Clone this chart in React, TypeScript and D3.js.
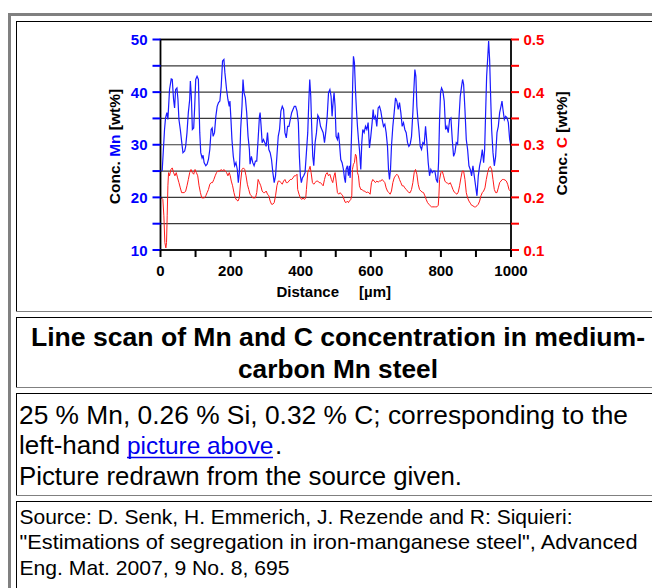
import React from "react";
import * as d3 from "d3";

// Mn line scan: [distance µm, Mn wt%]
const mnScan: [number, number][] = [
  [4.8,25.0],[11.5,32.9],[14.4,35.1],[18.2,36.1],[21.1,34.8],[25.8,40.5],[30.6,42.5],[33.5,42.4],[37.3,38.6],[40.2,37.0],
  [43.1,40.5],[46.9,40.8],[49.8,38.6],[52.6,34.8],[56.5,32.9],[61.2,30.1],[64.1,28.5],[68.9,28.8],[71.8,29.7],[75.6,32.3],
  [79.4,36.1],[83.3,38.6],[85.2,42.1],[88.0,39.2],[90.9,32.9],[94.7,33.2],[97.6,37.3],[100.5,42.4],[104.3,43.0],[108.1,42.4],
  [112.0,32.3],[114.8,28.5],[118.7,27.5],[121.5,28.0],[124.4,26.6],[129.2,26.0],[133.0,26.3],[136.8,27.2],[140.7,29.1],[144.5,32.9],
  [147.4,33.2],[150.2,31.6],[154.1,32.3],[157.9,35.4],[161.7,37.3],[165.6,38.0],[169.4,38.3],[173.2,41.1],[177.0,45.9],[180.9,46.2],
  [183.7,43.7],[188.5,40.5],[192.3,38.6],[196.2,37.3],[198.1,38.3],[201.0,34.8],[203.8,31.0],[207.7,27.8],[211.5,26.0],[215.3,26.6],
  [219.1,25.3],[222.0,22.8],[224.9,24.7],[228.7,32.9],[232.5,37.3],[235.4,42.4],[238.3,39.9],[242.1,38.9],[245.9,36.1],[249.8,31.6],
  [253.6,29.1],[255.5,26.3],[259.3,27.8],[263.2,26.6],[267.0,26.0],[270.8,26.9],[274.6,26.9],[278.5,31.0],[282.3,35.4],[284.2,36.1],
  [287.1,33.5],[290.0,30.4],[293.8,31.0],[297.6,30.4],[301.4,29.7],[305.3,32.3],[309.1,29.1],[312.9,28.5],[316.7,27.2],[320.6,24.7],
  [324.4,22.8],[328.2,24.1],[332.1,27.8],[335.9,31.6],[339.7,32.9],[343.5,36.4],[347.4,37.3],[351.2,36.7],[355.0,32.3],[358.9,31.3],
  [362.7,33.5],[366.5,33.5],[370.3,34.8],[374.2,36.1],[378.0,36.7],[381.8,37.3],[385.6,37.3],[389.5,36.4],[393.3,34.2],[396.2,27.8],
  [399.0,24.1],[401.9,22.8],[404.8,23.7],[408.6,24.1],[412.4,24.7],[416.3,28.5],[420.1,32.3],[423.0,38.0],[425.8,42.4],[428.7,39.2],
  [431.6,32.9],[434.4,27.8],[437.3,26.0],[441.1,30.4],[445.0,32.3],[448.8,35.6],[452.6,35.1],[456.5,33.5],[460.3,32.9],[464.1,32.3],
  [467.9,30.4],[471.8,32.6],[475.6,35.4],[479.4,39.9],[483.3,40.5],[486.7,39.2],[489.5,35.4],[492.4,38.0],[495.2,39.9],[498.1,37.3],
  [501.0,31.6],[504.8,31.0],[507.6,32.3],[510.5,30.4],[514.3,27.2],[518.1,26.6],[521.9,25.3],[524.8,23.7],[527.6,22.8],[529.5,25.3],
  [533.3,26.0],[536.2,24.1],[539.0,26.0],[541.0,23.7],[542.8,26.6],[545.7,33.5],[548.6,42.4],[550.5,46.8],[553.3,45.6],[556.2,40.5],
  [559.0,36.7],[561.9,33.5],[564.8,31.0],[567.6,29.1],[571.4,25.3],[574.3,30.4],[577.1,32.9],[581.0,32.3],[584.8,33.5],[588.6,32.9],
  [592.4,34.2],[596.2,29.4],[600.0,31.6],[603.8,34.2],[606.7,36.7],[609.5,34.8],[613.3,35.4],[617.1,33.5],[621.0,37.0],[624.8,37.3],
  [628.6,36.4],[632.4,34.8],[636.2,33.5],[640.0,33.9],[643.8,32.3],[647.6,29.7],[650.5,25.3],[653.3,23.4],[656.2,25.3],[659.0,29.7],
  [662.9,33.5],[666.7,36.1],[670.5,38.9],[674.3,38.3],[678.1,36.7],[681.9,38.0],[685.7,36.1],[689.5,33.5],[693.3,34.2],[697.1,32.9],
  [701.0,32.3],[704.8,30.4],[708.6,29.7],[712.4,30.1],[716.2,31.6],[720.0,36.1],[722.9,40.5],[725.7,44.3],[728.6,43.0],[731.4,37.3],
  [734.3,34.8],[737.1,32.9],[741.0,29.7],[744.8,29.1],[748.6,30.4],[752.4,30.1],[756.2,33.5],[760.0,30.4],[763.8,26.6],[767.6,24.1],
  [771.4,25.3],[775.2,24.7],[779.0,25.0],[782.9,25.0],[786.7,23.4],[790.5,22.8],[793.3,26.6],[796.2,34.8],[799.0,39.9],[801.9,40.8],
  [805.7,40.2],[809.5,38.3],[813.3,32.9],[817.1,33.5],[821.0,32.3],[824.8,34.8],[828.6,35.1],[832.4,31.0],[836.2,27.8],[840.0,28.5],
  [843.8,30.4],[847.6,30.1],[851.4,34.8],[855.2,39.2],[859.0,41.1],[861.9,42.4],[864.8,41.5],[868.6,36.7],[872.4,31.0],[876.2,29.1],
  [880.0,26.0],[883.8,25.3],[887.6,24.1],[891.4,26.0],[895.2,24.1],[899.0,22.2],[902.9,20.3],[906.7,24.1],[910.5,26.0],[914.3,27.2],
  [918.1,29.1],[921.9,26.6],[924.8,29.1],[927.6,36.1],[930.5,43.0],[933.3,46.2],[936.2,49.7],[939.0,46.2],[941.9,39.2],[944.8,32.9],
  [948.6,28.5],[952.4,26.0],[956.2,27.8],[960.0,32.3],[963.8,33.5],[967.6,36.1],[971.4,37.3],[974.3,38.3],[977.1,36.7],[981.0,34.8],
  [984.8,35.4],[988.6,35.1],[992.4,34.2],[996.2,31.0],[999.0,30.0]
];

// C line scan: [distance µm, C wt%]
const cScan: [number, number][] = [
  [0,0.196],[2.9,0.199],[6.7,0.196],[9.6,0.165],[12.4,0.114],[15.3,0.104],[17.2,0.114],[19.1,0.165],[21.1,0.222],[23.0,0.247],
  [25.8,0.241],[29.7,0.253],[33.5,0.256],[37.3,0.247],[41.1,0.241],[45.0,0.247],[48.8,0.237],[52.6,0.228],[56.5,0.218],[60.3,0.209],
  [64.1,0.209],[67.9,0.209],[71.8,0.212],[75.6,0.222],[79.4,0.234],[83.3,0.247],[87.1,0.253],[90.9,0.247],[94.7,0.244],[98.6,0.253],
  [102.4,0.247],[106.2,0.241],[110.0,0.222],[113.9,0.209],[117.7,0.199],[121.5,0.199],[125.4,0.199],[129.2,0.203],[133.0,0.209],[136.8,0.215],
  [140.7,0.225],[144.5,0.228],[148.3,0.228],[152.2,0.234],[156.0,0.241],[159.8,0.247],[163.6,0.250],[169.4,0.250],[173.2,0.253],[177.0,0.250],
  [180.9,0.253],[184.7,0.250],[188.5,0.247],[192.3,0.241],[196.2,0.247],[199.0,0.241],[201.9,0.231],[205.7,0.222],[209.6,0.209],[213.4,0.199],
  [217.2,0.195],[221.1,0.193],[224.9,0.199],[228.7,0.231],[232.5,0.253],[236.4,0.256],[240.2,0.253],[244.0,0.241],[247.8,0.225],[251.7,0.215],
  [255.5,0.206],[259.3,0.203],[263.2,0.199],[267.0,0.199],[270.8,0.199],[274.6,0.209],[278.5,0.234],[282.3,0.228],[286.1,0.222],[290.0,0.212],
  [293.8,0.209],[297.6,0.209],[301.4,0.212],[305.3,0.206],[309.1,0.203],[312.9,0.193],[316.7,0.187],[320.6,0.187],[324.4,0.190],[328.2,0.203],
  [332.1,0.222],[335.9,0.231],[339.7,0.231],[343.5,0.228],[347.4,0.225],[351.2,0.231],[355.0,0.234],[358.9,0.228],[362.7,0.228],[366.5,0.231],
  [370.3,0.234],[374.2,0.234],[378.0,0.237],[381.8,0.241],[385.6,0.241],[389.5,0.244],[391.4,0.215],[395.2,0.206],[399.0,0.199],[402.9,0.196],
  [406.7,0.199],[410.5,0.196],[414.4,0.199],[416.3,0.215],[420.1,0.247],[423.9,0.253],[426.8,0.259],[429.7,0.247],[433.5,0.228],[437.3,0.225],
  [441.1,0.228],[445.0,0.231],[448.8,0.231],[452.6,0.228],[456.5,0.228],[460.3,0.225],[464.1,0.222],[467.9,0.234],[471.8,0.244],[475.6,0.247],
  [479.4,0.241],[483.3,0.244],[487.6,0.234],[491.4,0.228],[495.2,0.241],[498.1,0.247],[501.0,0.231],[504.8,0.209],[508.6,0.206],[512.4,0.209],
  [516.2,0.206],[520.0,0.203],[523.8,0.196],[526.7,0.191],[529.5,0.190],[533.3,0.193],[536.2,0.190],[539.0,0.193],[542.8,0.196],[545.7,0.203],
  [547.6,0.253],[550.5,0.263],[553.3,0.266],[556.2,0.282],[559.0,0.278],[561.9,0.247],[564.8,0.241],[567.6,0.222],[571.4,0.215],[575.2,0.215],
  [579.0,0.212],[582.8,0.212],[586.7,0.209],[590.5,0.210],[594.3,0.209],[598.1,0.206],[601.9,0.228],[605.7,0.234],[609.5,0.231],[613.3,0.228],
  [617.1,0.231],[621.0,0.229],[624.8,0.231],[628.6,0.231],[632.4,0.234],[636.2,0.231],[640.0,0.228],[643.8,0.218],[647.6,0.212],[651.4,0.209],
  [655.2,0.206],[659.0,0.212],[662.9,0.228],[666.7,0.237],[670.5,0.241],[674.3,0.244],[678.1,0.241],[681.9,0.234],[685.7,0.228],[689.5,0.222],
  [693.3,0.222],[697.1,0.218],[701.0,0.215],[704.8,0.212],[708.6,0.209],[712.4,0.209],[716.2,0.215],[720.0,0.228],[723.8,0.247],[727.6,0.253],
  [731.4,0.244],[735.2,0.225],[739.0,0.215],[742.9,0.212],[746.7,0.210],[750.5,0.209],[754.3,0.203],[758.1,0.196],[761.9,0.190],[765.7,0.187],
  [769.5,0.184],[773.3,0.182],[777.1,0.182],[781.0,0.182],[784.8,0.182],[788.6,0.182],[792.4,0.185],[794.3,0.203],[796.2,0.234],[800.0,0.247],
  [803.8,0.250],[807.6,0.241],[811.4,0.231],[815.2,0.228],[819.0,0.227],[822.9,0.225],[826.7,0.228],[830.5,0.222],[834.3,0.215],[838.1,0.210],
  [841.9,0.208],[845.7,0.206],[849.5,0.210],[853.3,0.222],[857.1,0.237],[861.0,0.250],[864.8,0.250],[868.6,0.234],[872.4,0.209],[876.2,0.199],
  [880.0,0.193],[883.8,0.189],[887.6,0.185],[891.4,0.184],[895.2,0.182],[899.0,0.182],[902.9,0.184],[906.7,0.187],[910.5,0.193],[914.3,0.203],
  [918.1,0.209],[921.9,0.212],[925.7,0.218],[929.5,0.234],[933.3,0.247],[937.1,0.256],[941.0,0.259],[944.8,0.253],[948.6,0.234],[952.4,0.215],
  [956.2,0.209],[960.0,0.209],[963.8,0.218],[967.6,0.228],[971.4,0.231],[975.2,0.234],[979.0,0.234],[982.9,0.233],[986.7,0.231],[990.5,0.225],
  [994.3,0.215],[998.1,0.212]
];

const distanceTicks = [0, 100, 200, 300, 400, 500, 600, 700, 800, 900, 1000];
const distanceLabels = [0, 200, 400, 600, 800, 1000];
const mnTicks = [10, 15, 20, 25, 30, 35, 40, 45, 50];
const mnLabels = [10, 20, 30, 40, 50];
const mnGrid = [15, 20, 25, 30, 35, 40, 45];
const cTicks = [0.1, 0.15, 0.2, 0.25, 0.3, 0.35, 0.4, 0.45, 0.5];
const cLabels = [0.1, 0.2, 0.3, 0.4, 0.5];

const titleLines = ["Line scan of Mn and C concentration in medium-", "carbon Mn steel"];
const noteLine1 = "25 % Mn, 0.26 % Si, 0.32 % C; corresponding to the";
const noteLine2 = ["left-hand", "picture above", "."];
const noteLine3 = "Picture redrawn from the source given.";
const sourceLines = [
  "Source: D. Senk, H. Emmerich, J. Rezende and R: Siquieri:",
  "\"Estimations of segregation in iron-manganese steel\", Advanced",
  "Eng. Mat. 2007, 9 No. 8, 695",
];

const FONT = "'Liberation Sans', Arial, Helvetica, sans-serif";

function Cell({ top, bottom }: { top: number; bottom: number }) {
  return (
    <g>
      <rect x={16} y={top} width={636} height={1} fill="#000" />
      <rect x={16} y={top} width={1} height={bottom - top} fill="#000" />
      {bottom < 588 && <rect x={16} y={bottom} width={636} height={1} fill="#808080" />}
    </g>
  );
}

export default function App() {
  const x = d3.scaleLinear().domain([0, 1000]).range([160.5, 511]);
  const yMn = d3.scaleLinear().domain([10, 50]).range([250, 39.5]);
  const yC = d3.scaleLinear().domain([0.1, 0.5]).range([250, 39.5]);
  const mnPath = d3.line<[number, number]>().x((d) => x(d[0])).y((d) => yMn(d[1]))(mnScan) || "";
  const cPath = d3.line<[number, number]>().x((d) => x(d[0])).y((d) => yC(d[1]))(cScan) || "";
  const fmtC = d3.format(".1f");

  const titleWidths = [614, 200];
  const sourceWidths = [553, 618, 270];

  return (
    <svg width={652} height={588} style={{ position: "absolute", left: 0, top: 0 }} fontFamily={FONT}>
      <rect width={652} height={588} fill="#fff" />
      {/* outer table border */}
      <rect x={8} y={13} width={3} height={575} fill="#808080" />
      <rect x={8} y={13} width={644} height={3} fill="#808080" />
      <Cell top={21} bottom={311} />
      <Cell top={317} bottom={387} />
      <Cell top={393} bottom={495} />
      <Cell top={501} bottom={600} />

      {/* grid */}
      {mnGrid.map((v) => (
        <line key={"g" + v} x1={x(0)} x2={x(1000)} y1={yMn(v)} y2={yMn(v)} stroke="#3a3a3a" strokeWidth={1.2} />
      ))}

      {/* data */}
      <path d={cPath} fill="none" stroke="#ff1a1a" strokeWidth={1} />
      <path d={mnPath} fill="none" stroke="#1a1aff" strokeWidth={1.2} />

      {/* frame */}
      <rect x={x(0)} y={yMn(50)} width={x(1000) - x(0)} height={yMn(10) - yMn(50)} fill="none" stroke="#000" strokeWidth={1.8} />

      {/* left axis ticks (Mn) */}
      {mnTicks.map((v) => (
        <line key={"lt" + v} x1={x(0) - 8} x2={x(0)} y1={yMn(v)} y2={yMn(v)} stroke="#0000ff" strokeWidth={2} />
      ))}
      {mnLabels.map((v) => (
        <text key={"ll" + v} x={147.5} y={yMn(v) + 5.5} textAnchor="end" fontSize={15} fontWeight="bold" fill="#0000ff">
          {v}
        </text>
      ))}

      {/* right axis ticks (C) */}
      {cTicks.map((v) => (
        <line key={"rt" + v} x1={x(1000)} x2={x(1000) + 8} y1={yC(v)} y2={yC(v)} stroke="#ff0000" strokeWidth={2} />
      ))}
      {cLabels.map((v) => (
        <text key={"rl" + v} x={523.5} y={yC(v) + 5.5} fontSize={15} fontWeight="bold" fill="#ff0000">
          {fmtC(v)}
        </text>
      ))}

      {/* bottom ticks */}
      {distanceTicks.map((v) => (
        <line key={"bt" + v} x1={x(v)} x2={x(v)} y1={yMn(10)} y2={yMn(10) + 7} stroke="#000" strokeWidth={2} />
      ))}
      {distanceLabels.map((v) => (
        <text key={"bl" + v} x={x(v)} y={275.5} textAnchor="middle" fontSize={15} fontWeight="bold" fill="#000">
          {v}
        </text>
      ))}

      {/* axis titles */}
      <text x={276.5} y={297} fontSize={15} fontWeight="bold" fill="#000">Distance</text>
      <text x={359} y={297} fontSize={15} fontWeight="bold" fill="#000">[µm]</text>
      <text transform="translate(119.5,146.5) rotate(-90)" textAnchor="middle" fontSize={15.5} fontWeight="bold" fill="#000">
        Conc. <tspan fill="#0000ff">Mn</tspan> [wt%]
      </text>
      <text transform="translate(567,143.5) rotate(-90)" textAnchor="middle" fontSize={15.5} fontWeight="bold" fill="#000">
        Conc. <tspan fill="#ff0000">C</tspan> [wt%]
      </text>

      {/* caption cell */}
      {titleLines.map((t, i) => (
        <text key={"t" + i} x={338} y={346 + i * 32} textAnchor="middle" fontSize={26.5} fontWeight="bold" fill="#000"
          textLength={titleWidths[i]} lengthAdjust="spacingAndGlyphs">
          {t}
        </text>
      ))}

      {/* notes cell */}
      <text x={19} y={424} fontSize={26} fill="#000" textLength={609} lengthAdjust="spacingAndGlyphs">{noteLine1}</text>
      <text x={19} y={454} fontSize={26} fill="#000">{noteLine2[0]}</text>
      <text x={127} y={454} fontSize={24.4} fill="#0000ee">{noteLine2[1]}</text>
      <line x1={127} x2={273} y1={457.5} y2={457.5} stroke="#0000ee" strokeWidth={1.6} />
      <text x={275} y={454} fontSize={26} fill="#000">{noteLine2[2]}</text>
      <text x={19} y={484.5} fontSize={26} fill="#000" textLength={443} lengthAdjust="spacingAndGlyphs">{noteLine3}</text>

      {/* source cell */}
      {sourceLines.map((t, i) => (
        <text key={"s" + i} x={19.5} y={523.5 + i * 25.8} fontSize={21} fill="#000"
          textLength={sourceWidths[i]} lengthAdjust="spacingAndGlyphs">
          {t}
        </text>
      ))}
    </svg>
  );
}
